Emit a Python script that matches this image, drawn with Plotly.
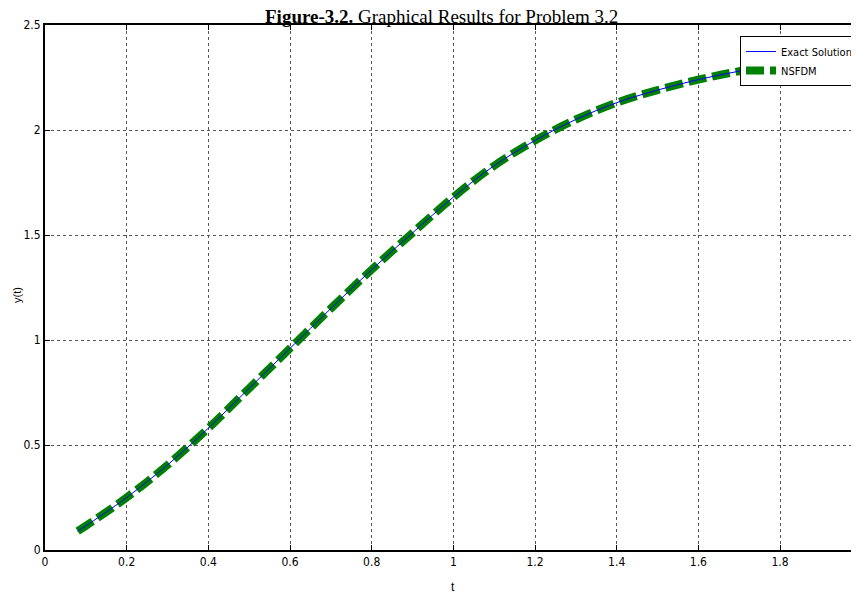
import plotly.graph_objects as go

t_values = [0.08, 0.1, 0.2, 0.3, 0.4, 0.5, 0.6, 0.7, 0.8, 0.9, 1.0,
            1.1, 1.2, 1.3, 1.4, 1.5, 1.6, 1.7, 1.8, 1.9]
exact_values = [0.09, 0.115, 0.25, 0.405, 0.58, 0.77, 0.96, 1.15, 1.335, 1.51, 1.68,
                1.83, 1.95, 2.05, 2.13, 2.19, 2.24, 2.28, 2.31, 2.33]
nsfdm_values = [0.09, 0.115, 0.25, 0.405, 0.58, 0.77, 0.96, 1.15, 1.335, 1.51, 1.68,
                1.83, 1.95, 2.05, 2.13, 2.19, 2.24, 2.28, 2.31, 2.33]
x_ticks = [0, 0.2, 0.4, 0.6, 0.8, 1, 1.2, 1.4, 1.6, 1.8]
y_ticks = [0, 0.5, 1, 1.5, 2, 2.5]

narrow = "Liberation Sans Narrow, Arial Narrow, DejaVu Sans Condensed, Liberation Sans"
tick_font = dict(family=narrow, size=12, color="black")

fig = go.Figure()
fig.add_trace(go.Scatter(
    x=t_values, y=nsfdm_values, mode="lines", name="NSFDM",
    line=dict(color="#008000", width=8, dash="18px,6px", shape="spline"),
))
fig.add_trace(go.Scatter(
    x=t_values, y=exact_values, mode="lines", name="Exact Solution",
    line=dict(color="#0000ff", width=1, shape="spline"),
))

fig.update_layout(
    width=851, height=586,
    margin=dict(l=37, r=1, t=17, b=44),
    paper_bgcolor="white", plot_bgcolor="white",
    showlegend=True,
    legend=dict(
        x=1, xanchor="right", y=0.979, yanchor="top",
        bgcolor="white", bordercolor="black", borderwidth=1,
        font=dict(family=narrow, size=11, color="black"),
        traceorder="reversed", itemwidth=30, tracegroupgap=0,
    ),
    annotations=[
        dict(
            text="<b>Figure-3.2.</b> Graphical Results for Problem 3.2",
            xref="paper", yref="paper", x=(441 - 45) / 813, y=1.0,
            xanchor="center", yanchor="bottom", yshift=-4, showarrow=False,
            font=dict(family="Liberation Serif, Times New Roman", size=19, color="black"),
        ),
        dict(
            text="t", xref="paper", yref="paper", x=(453 - 45) / 813, y=0,
            xanchor="center", yanchor="middle", yshift=-37, showarrow=False,
            font=dict(family="Liberation Sans", size=12, color="black"),
        ),
        dict(
            text="y(t)", xref="paper", yref="paper", x=0, y=(550 - 295) / 525,
            xanchor="center", yanchor="middle", xshift=-28, textangle=-90,
            showarrow=False,
            font=dict(family="Liberation Sans", size=11, color="black"),
        ),
    ],
)

fig.update_xaxes(
    range=[0, 1.991], tickvals=x_ticks, ticktext=[str(v) for v in x_ticks],
    ticks="inside", ticklen=5, tickcolor="black", tickwidth=1,
    showline=True, linecolor="black", linewidth=2, mirror="ticks",
    showgrid=True, gridcolor="#555555", griddash="dot", gridwidth=1,
    zeroline=False, tickfont=tick_font, automargin=False,
)
fig.update_yaxes(
    range=[0, 2.5], tickvals=y_ticks, ticktext=[str(v) for v in y_ticks],
    ticks="inside", ticklen=5, tickcolor="black", tickwidth=1,
    showline=True, linecolor="black", linewidth=2, mirror=False,
    showgrid=True, gridcolor="#555555", griddash="dot", gridwidth=1,
    zeroline=False, tickfont=tick_font, automargin=False,
)

fig.write_html("out.html")
